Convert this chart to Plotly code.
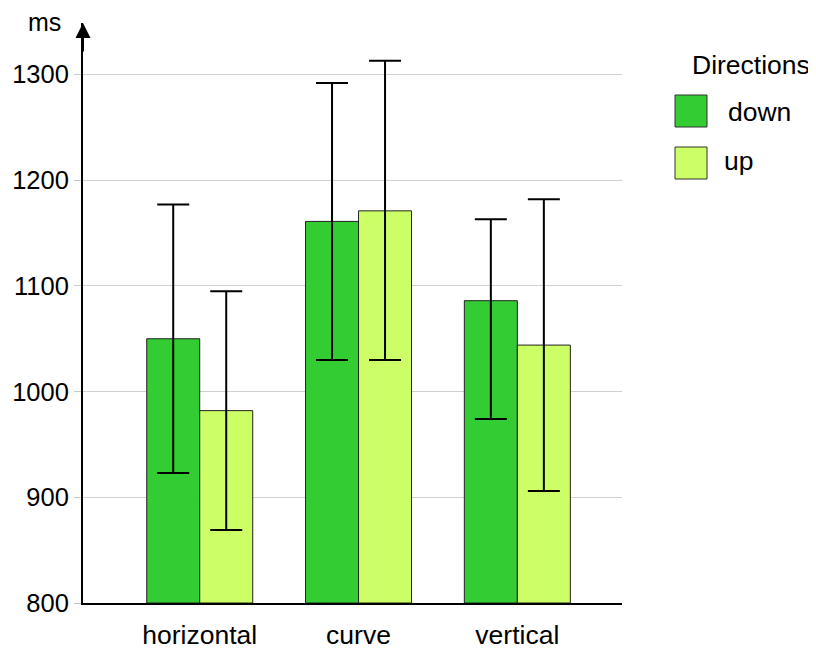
import plotly.graph_objects as go

categories = ["horizontal", "curve", "vertical"]
down_mean = [1050, 1161, 1086]
down_plus = [127, 131, 77]
down_minus = [127, 131, 112]
up_mean = [982, 1171, 1044]
up_plus = [113, 142, 138]
up_minus = [113, 141, 138]
series_names = ["down", "up"]
colors = ["#33cc33", "#ccff66"]
yticks = [800, 900, 1000, 1100, 1200, 1300]

FONT = "Liberation Sans, Arial, sans-serif"
FS = 26.5

fig = go.Figure()
for name, mean, plus, minus, col in [
    (series_names[0], down_mean, down_plus, down_minus, colors[0]),
    (series_names[1], up_mean, up_plus, up_minus, colors[1]),
]:
    fig.add_trace(go.Bar(
        x=categories, y=[m - 800 for m in mean], base=800, name=name,
        marker=dict(color=col, line=dict(color="#222222", width=1)),
        error_y=dict(type="data", symmetric=False, array=plus, arrayminus=minus,
                     color="black", thickness=2, width=16),
        showlegend=False,
    ))

# page body has an 8px margin; work in screen pixels and subtract it
O = 8
W, H = 816 - O, 650 - O
PL, PR, PT, PB = 83, 622, 23, 603  # plot area in screen px
L, R, T, B = PL - O, W - (PR - O), PT - O, H - (PB - O)
pw, ph = PR - PL, PB - PT
ymin = 800
ymax = 800 + ph / 1.057

def px(x):
    return (x - PL) / pw

def py(y):
    return (PB - y) / ph

fig.update_layout(
    width=W, height=H,
    margin=dict(l=L, r=R, t=T, b=B, autoexpand=False),
    paper_bgcolor="white", plot_bgcolor="white",
    barmode="group", bargap=0.3325, bargroupgap=0,
    font=dict(family=FONT, size=FS, color="black"),
    xaxis=dict(type="category", range=[-0.735, 2.659], showgrid=False,
               showline=True, linecolor="black", linewidth=2, automargin=False,
               ticks="outside", ticklen=7, tickcolor="rgba(0,0,0,0)",
               tickfont=dict(size=FS, family=FONT, color="black"), zeroline=False),
    yaxis=dict(range=[ymin, ymax], tickvals=yticks, showgrid=True,
               gridcolor="#d0d0d0", gridwidth=1, automargin=False,
               showline=True, linecolor="black", linewidth=2,
               ticks="outside", ticklen=7, tickcolor="#c8c8c8", tickwidth=1,
               tickfont=dict(size=25.5, family=FONT, color="black"), zeroline=False),
)

# arrow at top of y axis
fig.add_annotation(xref="paper", yref="paper", x=0, y=1, ax=0, ay=30,
                   axref="pixel", ayref="pixel", text="", showarrow=True,
                   arrowhead=2, arrowsize=1.5, arrowwidth=2, arrowcolor="black")
fig.add_annotation(xref="paper", yref="paper", x=px(26), y=py(22), text="ms",
                   showarrow=False, xanchor="left", yanchor="middle",
                   font=dict(size=25, family=FONT, color="black"))

# legend
fig.add_annotation(xref="paper", yref="paper", x=px(690), y=py(65), text="Directions",
                   showarrow=False, xanchor="left", yanchor="middle",
                   font=dict(size=FS, family=FONT, color="black"))
legend_rows = [(series_names[0], colors[0], 95, 127, 726, 112), (series_names[1], colors[1], 147, 179, 722, 161)]
for name, col, y0, y1, tx, ty in legend_rows:
    fig.add_shape(type="rect", xref="paper", yref="paper",
                  x0=px(675), x1=px(707), y0=py(y1), y1=py(y0),
                  fillcolor=col, line=dict(color="#333333", width=1))
    fig.add_annotation(xref="paper", yref="paper", x=px(tx), y=py(ty), text=name,
                       showarrow=False, xanchor="left", yanchor="middle",
                       font=dict(size=FS, family=FONT, color="black"))

fig.write_html("out.html")
